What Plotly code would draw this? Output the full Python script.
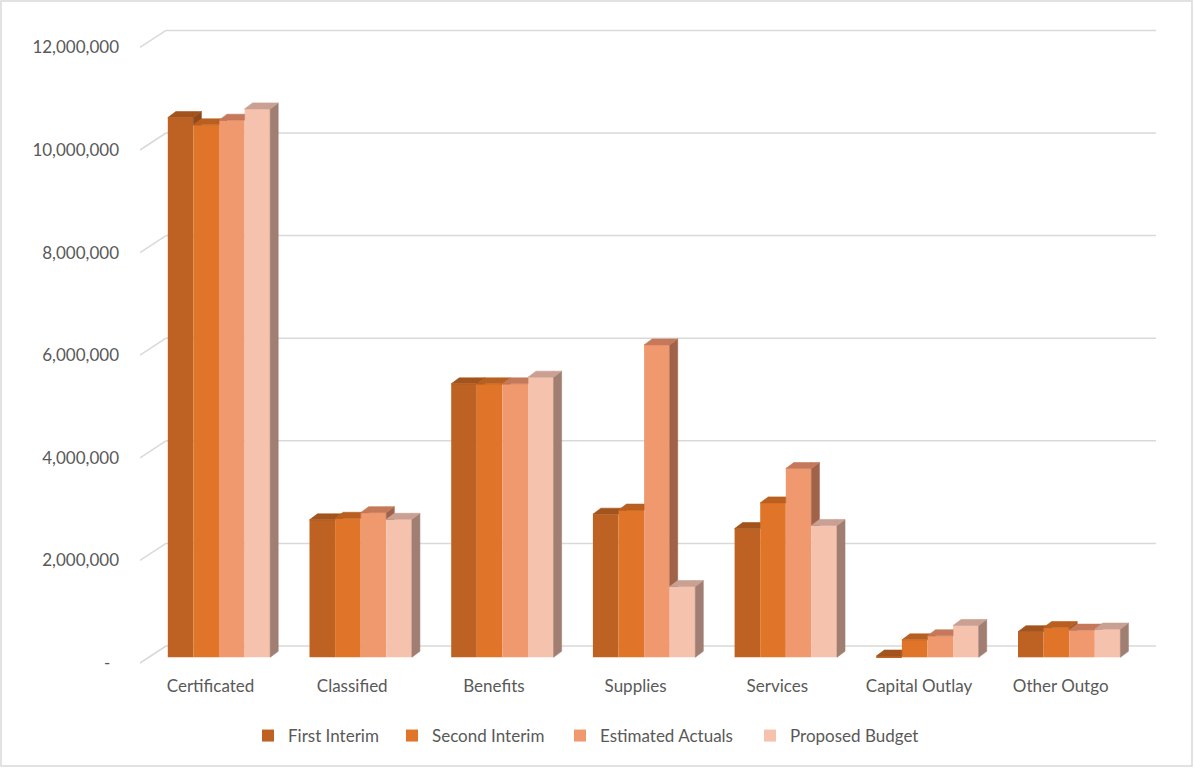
import plotly.graph_objects as go

# ---------------- data ----------------
categories = ["Certificated", "Classified", "Benefits", "Supplies",
              "Services", "Capital Outlay", "Other Outgo"]
series_names = ["First Interim", "Second Interim", "Estimated Actuals", "Proposed Budget"]
first_interim = [10520000, 2680000, 5330000, 2790000, 2510000, 25000, 500000]
second_interim = [10380000, 2710000, 5330000, 2870000, 3010000, 340000, 580000]
estimated_actuals = [10470000, 2820000, 5330000, 6090000, 3680000, 420000, 530000]
proposed_budget = [10690000, 2690000, 5460000, 1380000, 2570000, 620000, 550000]
tick_values = [0, 2000000, 4000000, 6000000, 8000000, 10000000, 12000000]
tick_labels = ["-\u00a0\u00a0", "2,000,000", "4,000,000", "6,000,000",
               "8,000,000", "10,000,000", "12,000,000"]

series_values = [first_interim, second_interim, estimated_actuals, proposed_budget]

# ---------------- styles / geometry ----------------
front_colors = ["#BE6224", "#E07529", "#F0996F", "#F5C2AD"]
top_colors = ["#A3541D", "#B95F20", "#C5795A", "#C9A092"]
side_colors = ["#8E4A1B", "#A6561F", "#A0634A", "#A07E72"]
FONT = dict(family="Lato, 'Open Sans', sans-serif", size=17, color="#595959")
GRID = "#D9D9D9"

W, H = 1194, 768
L, R, T, B = 140, 37, 20, 100
PW, PH = W - L - R, H - T - B
PX_PER_CAT = 141.7
CAT0_PX = 219.0
PX_PER_VAL = 51.3 / 1e6
ZERO_PX = 657.3
LEGEND_TEXT_PX = [288, 432, 600, 790]   # left edge of each legend label
LEGEND_Y_PX = 736


def dxu(px):
    return px / PX_PER_CAT


def dyu(px):
    return px / PX_PER_VAL


x_range = [(L - CAT0_PX) / PX_PER_CAT, (W - R - CAT0_PX) / PX_PER_CAT]
y_range = [(ZERO_PX - (H - B)) / PX_PER_VAL, (ZERO_PX - T) / PX_PER_VAL]

BW = dxu(25.6)          # bar width
DX, DY = dxu(8), dyu(6)  # bar depth offsets
FRONT_X, FRONT_Y = dxu(-8.5), dyu(-5.7)   # floor front edge offset
BACK_Y = dyu(11.3)                         # back wall offset
BACK_X0 = dxu(166 - CAT0_PX)
GRID_X1 = dxu(1156 - CAT0_PX)


def clip_above(poly, c):
    out = []
    n = len(poly)
    for k in range(n):
        p, q = poly[k], poly[(k + 1) % n]
        pin, qin = p[1] >= c, q[1] >= c
        if pin:
            out.append(p)
        if pin != qin:
            t = (c - p[1]) / (q[1] - p[1])
            out.append((p[0] + t * (q[0] - p[0]), c))
    return out


fig = go.Figure()

legend_ids = ["legend", "legend2", "legend3", "legend4"]

# bars (front faces)
for j, name in enumerate(series_names):
    fig.add_trace(go.Bar(
        x=list(range(len(categories))), y=series_values[j], name=name,
        offset=(j - 2) * BW, width=BW, legend=legend_ids[j],
        marker=dict(color=front_colors[j], line=dict(width=0)),
        hoverinfo="skip"))

# 3D side / top faces, painter order by series
for j in range(len(series_names)):
    side_x, side_y, top_x, top_y = [], [], [], []
    for i in range(len(categories)):
        v = series_values[j][i]
        vn = series_values[j + 1][i] if j < len(series_names) - 1 else -1e12
        xl = i + (j - 2) * BW
        xr = xl + BW
        polys_top = [[(xl, v), (xr, v), (xr, v + DY), (xl + DX, v + DY)],
                     clip_above([(xr, v), (xr + DX, v + DY), (xr, v + DY)], vn)]
        polys_side = [clip_above([(xr, 0), (xr + DX, DY), (xr + DX, v + DY), (xr, v)], vn)]
        for poly in polys_top:
            if len(poly) >= 3:
                top_x += [p[0] for p in poly] + [poly[0][0], None]
                top_y += [p[1] for p in poly] + [poly[0][1], None]
        for poly in polys_side:
            if len(poly) >= 3:
                side_x += [p[0] for p in poly] + [poly[0][0], None]
                side_y += [p[1] for p in poly] + [poly[0][1], None]
    fig.add_trace(go.Scatter(x=side_x, y=side_y, mode="lines", fill="toself",
                             fillcolor=side_colors[j],
                             line=dict(width=0.6, color=side_colors[j]),
                             showlegend=False, hoverinfo="skip"))
    fig.add_trace(go.Scatter(x=top_x, y=top_y, mode="lines", fill="toself",
                             fillcolor=top_colors[j],
                             line=dict(width=0.6, color=top_colors[j]),
                             showlegend=False, hoverinfo="skip"))

# back-wall gridlines with diagonal connectors
shapes = []
for v in tick_values:
    shapes.append(dict(type="line", xref="x", yref="y", layer="below",
                       x0=x_range[0], y0=v + FRONT_Y, x1=BACK_X0, y1=v + BACK_Y,
                       line=dict(color=GRID, width=1.5)))
    shapes.append(dict(type="line", xref="x", yref="y", layer="below",
                       x0=BACK_X0, y0=v + BACK_Y, x1=GRID_X1, y1=v + BACK_Y,
                       line=dict(color=GRID, width=1.5)))
# chart border
shapes.append(dict(type="rect", xref="paper", yref="paper",
                   x0=(1 - L) / PW, x1=(W - 2 - L) / PW,
                   y0=(H - B - (H - 2)) / PH, y1=(H - B - 1) / PH,
                   line=dict(color=GRID, width=1.5)))

legends = {}
for j, lid in enumerate(legend_ids):
    legends[lid] = dict(orientation="h", x=(LEGEND_TEXT_PX[j] - 40 - L) / PW,
                        xanchor="left", y=(H - B - LEGEND_Y_PX) / PH,
                        yanchor="middle", font=FONT, itemwidth=30,
                        bgcolor="rgba(0,0,0,0)")

fig.update_layout(
    width=W, height=H,
    margin=dict(l=L, r=R, t=T, b=B),
    paper_bgcolor="white", plot_bgcolor="white",
    barmode="overlay",
    font=FONT,
    shapes=shapes,
    showlegend=True,
    xaxis=dict(range=x_range, showgrid=False, zeroline=False, showline=False,
               tickvals=[i + FRONT_X for i in range(len(categories))],
               ticktext=categories, ticks="", ticklabelstandoff=6,
               fixedrange=True),
    yaxis=dict(range=y_range, showgrid=False, zeroline=False, showline=False,
               tickvals=[v + FRONT_Y for v in tick_values],
               ticktext=tick_labels, ticks="", ticklabelstandoff=20,
               fixedrange=True),
    **legends,
)

fig.write_html("out.html")
